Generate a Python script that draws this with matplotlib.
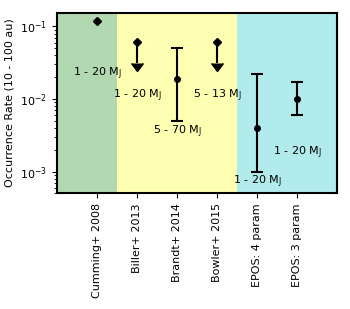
import numpy as np
import matplotlib
matplotlib.use("Agg")
import matplotlib.pyplot as plt

plt.rcParams["font.family"] = ["DejaVu Sans"]
plt.rcParams["font.size"] = 8

# 数据
names = ["Cumming+ 2008", "Biller+ 2013", "Brandt+ 2014", "Bowler+ 2015",
         "EPOS: 4 param", "EPOS: 3 param"]
rate = [0.12, 0.062, 0.019, 0.062, 0.004, 0.01]
err_lo = [0.0, 0.031, 0.014, 0.031, 0.003, 0.004]
err_hi = [0.0, 0.0, 0.031, 0.0, 0.018, 0.0074]
is_limit = [False, True, False, True, False, False]
mass_range = ["1 - 20", "1 - 20", "5 - 70", "5 - 13", "1 - 20", "1 - 20"]
label_y = [0.022, 0.011, 0.0035, 0.011, 0.00073, 0.0018]

x = np.arange(len(names))

fig = plt.figure(figsize=(3.5, 3.09), dpi=100)
ax = fig.add_axes([0.163, 0.374, 0.8, 0.585])

# 背景色块
ax.axvspan(-1, 0.5, color="g", alpha=0.3, lw=0)
ax.axvspan(0.5, 3.5, color="yellow", alpha=0.3, lw=0)
ax.axvspan(3.5, 6, color="c", alpha=0.3, lw=0)

# Cumming: 单点
ax.plot(x[0], rate[0], "kD", ms=4)

# 上限 (箭头), 去掉顶部横线
for i in range(len(x)):
    if is_limit[i]:
        _, caps, _ = ax.errorbar(x[i], rate[i], yerr=[[err_lo[i]], [0]],
                                 uplims=True, fmt="kD", ms=4, lw=1.5,
                                 capsize=4, zorder=3)
        for c in caps:
            if c.get_marker() == "_":
                c.set_visible(False)

# 误差棒
for i in range(len(x)):
    if not is_limit[i] and err_hi[i] > 0:
        ax.errorbar(x[i], rate[i], yerr=[[err_lo[i]], [err_hi[i]]],
                    fmt="ko", ms=4, lw=1.5, capsize=4, capthick=1.5)

# 质量范围标注
for i in range(len(x)):
    ax.text(x[i], label_y[i], mass_range[i] + r" M$_\mathrm{J}$",
            ha="center", va="center", fontsize=8)

ax.set_yscale("log")
ax.set_ylim(5e-4, 0.155)
ax.set_xlim(-1, 6)
ax.set_xticks(x)
ax.set_xticklabels(names, rotation=90)
ax.set_ylabel("Occurrence Rate (10 - 100 au)")
for s in ax.spines.values():
    s.set_linewidth(1.5)

fig.savefig("out.png", dpi=100)
